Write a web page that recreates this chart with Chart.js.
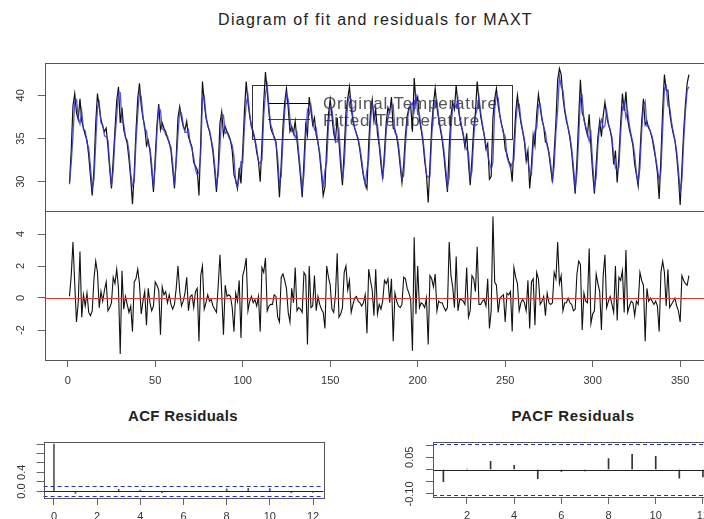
<!DOCTYPE html>
<html>
<head>
<meta charset="utf-8">
<script src="https://cdn.jsdelivr.net/npm/chart.js@4.4.1/dist/chart.umd.min.js"></script>
<style>
  html, body { margin: 0; padding: 0; background: #fff; overflow: hidden; }
  #page { position: relative; width: 704px; height: 519px; overflow: hidden; font-family: "Liberation Sans", Arial, sans-serif; }
  canvas { position: absolute; }
  .title { position: absolute; text-align: center; color: #222; line-height: 18px; }
</style>
</head>
<body>
<div id="page">
  <div class="title" style="left:0;top:11px;width:751px;font-size:16px;letter-spacing:1.3px;">Diagram of fit and residuals for MAXT</div>
  <canvas id="fitChart" width="716" height="212" style="left:0;top:0"></canvas>
  <canvas id="residChart" width="716" height="190" style="left:0;top:205px"></canvas>
  <div class="title" style="left:83px;top:407px;width:200px;font-size:15px;font-weight:bold;letter-spacing:0.3px;">ACF Residuals</div>
  <div class="title" style="left:473px;top:407px;width:200px;font-size:15px;font-weight:bold;letter-spacing:0.6px;">PACF Residuals</div>
  <canvas id="acfChart" width="360" height="119" style="left:0;top:400px"></canvas>
  <canvas id="pacfChart" width="356" height="119" style="left:360px;top:400px"></canvas>
</div>
<script>
// daily maximum temperature, one value per day
const origTemp = [
  29.8, 33.6, 38.8, 40.2, 38.0, 37.2, 39.6, 37.0, 36.2, 35.4, 34.8, 33.0, 30.6, 28.4,
  31.5, 36.8, 40.2, 38.6, 37.2, 36.4, 35.8, 36.2, 34.0, 31.4, 29.2,
  32.6, 36.0, 39.4, 41.0, 36.8, 38.6, 36.0, 35.2, 34.4, 32.6, 30.4, 27.4,
  31.0, 35.8, 39.6, 41.4, 38.8, 37.4, 36.4, 34.2, 34.8, 33.6, 31.2, 28.8,
  32.8, 36.6, 39.0, 36.0, 36.8, 36.2, 35.8, 35.0, 34.6, 33.6, 31.4, 29.2,
  32.8, 37.4, 38.7, 37.4, 36.4, 36.0, 37.0, 35.2, 34.6, 34.0, 32.2, 31.8, 31.4, 28.4,
  34.6, 41.6, 39.2, 37.4, 36.6, 35.8, 34.8, 33.4, 31.2, 28.8,
  31.6, 36.8, 38.1, 35.4, 36.4, 35.8, 35.4, 34.8, 33.6, 30.8, 30.2, 29.2,
  31.6, 29.8, 33.6, 38.2, 41.6, 39.2, 37.6, 36.4, 35.6, 34.8, 33.4, 32.4, 30.0,
  34.4, 39.2, 42.7, 40.4, 38.0, 36.2, 35.6, 35.2, 34.6, 31.6, 28.2,
  32.0, 36.4, 39.2, 40.8, 38.6, 35.8, 36.4, 35.6, 37.0, 34.8, 32.8, 30.6, 28.2,
  32.4, 36.6, 35.4, 39.8, 38.2, 36.6, 37.4, 35.4, 34.6, 33.0, 30.8, 28.4,
  29.4, 34.2, 37.8, 39.5, 37.6, 35.6, 34.8, 37.4, 34.6, 31.8, 29.6,
  33.6, 38.0, 39.6, 41.0, 38.6, 37.0, 36.2, 35.6, 34.8, 33.6, 32.0, 30.6, 29.8, 29.2,
  34.4, 38.0, 39.5, 37.0, 38.4, 35.6, 34.2, 32.0, 30.3,
  33.4, 36.8, 38.6, 38.0, 39.8, 36.2, 36.0, 35.2, 33.8, 31.8, 29.9, 32.0,
  35.4, 37.6, 38.6, 38.8, 35.8, 42.0, 39.2, 39.8, 37.2, 36.0, 34.6, 32.4, 30.8, 27.6,
  32.0, 36.4, 39.0, 40.8, 38.6, 37.2, 36.0, 34.8, 33.0, 30.8, 28.8,
  34.0, 37.6, 39.2, 38.4, 41.2, 38.8, 37.4, 36.4, 35.4, 34.0, 35.6, 32.2, 29.6,
  32.6, 36.2, 38.0, 41.6, 39.4, 37.6, 36.4, 35.4, 33.8, 34.4, 30.3, 30.6,
  37.4, 39.6, 40.8, 38.8, 37.6, 36.6, 35.8, 33.8, 33.2, 32.4, 32.0, 30.0,
  34.4, 38.0, 40.0, 38.2, 36.8, 35.8, 34.6, 32.4, 33.6, 29.2,
  31.8, 35.4, 34.2, 37.8, 40.1, 38.6, 37.2, 36.4, 34.6, 34.4, 33.2, 31.6, 29.9,
  33.4, 37.0, 41.8, 43.1, 42.4, 39.8, 38.2, 37.0, 36.2, 35.0, 33.4, 31.0, 28.6,
  32.4, 37.4, 41.8, 38.0, 37.4, 36.2, 35.4, 37.8, 34.0, 31.0, 28.6,
  32.0, 35.2, 37.0, 35.2, 37.6, 39.2, 37.6, 36.6, 36.0, 34.8, 32.0, 33.6, 29.9,
  33.0, 36.8, 40.2, 38.2, 40.4, 37.2, 36.0, 35.2, 34.2, 32.0, 30.8, 29.5,
  33.2, 37.0, 39.6, 36.6, 37.0, 36.2, 35.8, 35.0, 33.8, 32.6, 31.0, 28.0,
  32.8, 38.4, 42.4, 40.6, 40.6, 38.0, 36.6, 35.6, 34.8, 33.0, 30.6, 27.3,
  31.6, 35.8, 39.0, 41.4, 42.4
];

// fitted values (blue line)
const fittedTemp = [
  29.7, 32.2, 35.3, 39.3, 39.5, 37.5, 36.7, 38.2, 36.0, 35.9, 34.5, 33.9, 31.7, 29.2,
  30.3, 34.5, 38.6, 39.2, 36.8, 36.6, 35.3, 35.2, 34.8, 32.0, 29.5,
  31.3, 35.1, 37.6, 40.4, 40.3, 36.9, 36.7, 35.1, 34.8, 33.5, 30.9, 29.5,
  30.0, 34.6, 37.8, 40.5, 39.8, 37.6, 36.0, 35.9, 34.2, 33.9, 32.0, 29.3,
  31.8, 35.8, 38.5, 38.3, 36.1, 36.0, 35.4, 35.3, 34.4, 34.0, 32.1, 29.6,
  32.2, 35.4, 38.3, 37.9, 36.6, 35.7, 35.7, 36.0, 34.5, 33.8, 32.8, 31.4, 30.8, 31.1,
  33.2, 39.6, 39.9, 37.7, 36.4, 36.0, 34.9, 33.9, 31.9, 29.7,
  30.8, 34.1, 37.8, 37.7, 35.6, 35.7, 35.2, 34.7, 34.2, 32.9, 29.9, 29.4,
  30.5, 32.3, 32.2, 36.4, 39.1, 40.0, 37.8, 36.3, 35.9, 34.9, 33.9, 32.3, 32.1,
  32.5, 37.6, 40.2, 41.2, 38.5, 36.6, 36.0, 35.0, 34.5, 32.8, 29.7,
  30.7, 34.9, 38.1, 40.2, 39.5, 37.3, 35.8, 35.9, 35.1, 35.6, 33.4, 31.3, 29.1,
  30.8, 35.2, 38.3, 37.8, 38.8, 37.1, 36.0, 36.2, 34.5, 33.4, 31.5, 29.3,
  31.3, 32.2, 36.5, 38.7, 38.3, 36.5, 34.6, 34.6, 35.8, 32.8, 30.2,
  32.0, 36.0, 39.1, 39.9, 39.5, 37.4, 36.2, 35.5, 35.0, 33.9, 32.5, 30.9, 29.6, 31.4,
  32.6, 36.9, 39.0, 38.1, 36.6, 36.6, 34.6, 32.7, 30.5,
  32.3, 35.9, 37.4, 38.3, 38.6, 38.9, 35.7, 35.4, 34.3, 32.4, 30.3, 30.7,
  34.2, 37.0, 38.3, 38.9, 39.1, 38.2, 40.2, 37.8, 37.8, 36.3, 35.0, 33.0, 30.8, 30.5,
  30.6, 35.2, 38.3, 39.3, 39.4, 37.4, 36.3, 35.1, 33.6, 31.6, 29.4,
  30.5, 36.2, 38.5, 39.0, 38.6, 39.6, 37.5, 36.5, 35.6, 34.4, 33.7, 33.4, 30.4,
  31.2, 35.0, 37.6, 38.4, 39.8, 38.0, 36.6, 35.5, 34.3, 33.2, 32.2, 31.4,
  32.3, 38.6, 40.0, 39.7, 37.6, 36.5, 35.6, 35.3, 32.9, 32.2, 31.6, 32.1,
  32.5, 36.7, 39.1, 39.0, 37.1, 35.9, 34.9, 33.2, 32.5, 31.1,
  30.8, 34.2, 35.9, 36.2, 38.9, 39.0, 37.4, 36.3, 35.7, 34.1, 33.5, 32.0, 30.2,
  31.8, 35.8, 38.3, 42.2, 41.0, 40.6, 38.5, 37.3, 36.2, 35.3, 33.8, 31.8, 29.3,
  30.9, 35.1, 39.7, 40.0, 37.1, 36.4, 35.7, 34.7, 35.6, 32.0, 29.4,
  30.5, 34.3, 36.6, 37.2, 36.2, 36.5, 38.2, 36.8, 35.9, 35.2, 32.9, 31.6, 31.3,
  31.7, 35.7, 38.5, 39.1, 37.4, 38.1, 36.5, 35.4, 34.5, 33.1, 31.0, 29.9,
  31.6, 35.9, 38.8, 39.3, 36.4, 36.4, 35.8, 35.2, 34.2, 32.8, 31.5, 30.1,
  31.2, 36.1, 40.8, 41.1, 38.8, 38.6, 37.0, 35.8, 34.8, 33.5, 31.4, 28.8,
  30.2, 34.7, 38.1, 40.6, 41.0
];

// residuals (middle panel)
const residuals = [
  0.1, 1.4, 3.5, 0.9, -1.5, -0.3, 2.9, -1.2, 0.2, -0.5, 0.3, -0.9, -1.1, -0.8,
  1.2, 2.3, 1.6, -0.6, 0.4, -0.2, 0.5, 1.0, -0.8, -0.6, -0.3,
  1.3, 0.9, 1.8, 0.6, -3.5, 1.7, -0.7, 0.1, -0.4, -0.9, -0.5, -2.1,
  1.0, 1.2, 1.8, 0.9, -1.0, -0.2, 0.4, -1.7, 0.6, -0.3, -0.8, -0.5,
  1.0, 0.8, 0.5, -2.3, 0.7, 0.2, 0.4, -0.3, 0.2, -0.4, -0.7, -0.4,
  0.6, 2.0, 0.4, -0.5, -0.2, 0.3, 1.3, -0.8, 0.1, 0.2, -0.6, 0.4, 0.6, -2.7,
  1.4, 2.0, -0.7, -0.3, 0.2, -0.2, -0.1, -0.5, -0.7, -0.9,
  0.8, 2.7, 0.3, -2.3, 0.8, 0.1, 0.2, 0.1, -0.6, -2.1, 0.3, -0.2,
  1.1, -2.5, 1.4, 1.8, 2.5, -0.8, -0.2, 0.1, -0.3, -0.1, -0.5, 0.1, -2.1,
  1.9, 1.6, 2.5, -0.8, -0.5, -0.4, -0.4, 0.2, 0.1, -1.2, -1.5,
  1.3, 1.5, 1.1, 0.6, -0.9, -1.5, 0.6, -0.3, 1.9, -0.8, -0.6, -0.7, -0.9,
  1.6, 1.4, -2.9, 2.0, -0.6, -0.5, 1.4, -0.8, 0.1, -0.4, -0.7, -0.9,
  -1.9, 2.0, 1.3, 0.8, -0.7, -0.9, 0.2, 2.8, -1.2, -1.0, -0.6,
  1.6, 2.0, 0.5, 1.1, -0.9, -0.4, 0.0, 0.1, -0.2, -0.3, -0.5, -0.3, 0.2, -2.2,
  1.8, 1.1, 0.5, -1.1, 1.8, -1.0, -0.4, -0.7, -0.2,
  1.1, 0.9, 1.2, -0.3, 1.2, -2.7, 0.3, -0.2, -0.5, -0.6, -0.4, 1.3,
  1.2, 0.6, 0.3, -0.1, -3.3, 3.8, -1.0, 2.0, -0.6, -0.3, -0.4, -0.6, 0.0, -2.9,
  1.4, 1.2, 0.7, 1.5, -0.8, -0.2, -0.3, -0.3, -0.6, -0.8, -0.6,
  3.5, 1.4, 0.7, -0.6, 2.6, -0.8, -0.1, -0.1, -0.2, -0.4, 1.9, -1.2, -0.8,
  1.4, 1.2, 0.4, 3.2, -0.4, -0.4, -0.2, -0.1, -0.5, 1.2, -1.9, -0.8,
  5.1, 1.0, 0.8, -0.9, 0.0, 0.1, 0.2, -1.5, 0.3, 0.2, 0.4, -2.1,
  1.9, 1.3, 0.9, -0.8, -0.3, -0.1, -0.3, -0.8, 1.1, -1.9,
  1.0, 1.2, -1.7, 1.6, 1.2, -0.4, -0.2, 0.1, -1.1, 0.3, -0.3, -0.4, -0.3,
  1.6, 1.2, 3.5, 0.9, 1.4, -0.8, -0.3, -0.3, 0.0, -0.3, -0.4, -0.8, -0.7,
  1.5, 2.3, 2.1, -2.0, 0.3, -0.2, -0.3, 3.1, -1.6, -1.0, -0.8,
  1.5, 0.9, 0.4, -2.0, 1.4, 2.7, -0.6, -0.2, 0.1, -0.4, -0.9, 2.0, -1.4,
  1.3, 1.1, 1.7, -0.9, 3.0, -0.9, -0.5, -0.2, -0.3, -1.1, -0.2, -0.4,
  1.6, 1.1, 0.8, -2.7, 0.6, -0.2, 0.0, -0.2, -0.4, -0.2, -0.5, -2.1,
  1.6, 2.3, 1.6, -0.5, 1.8, -0.6, -0.4, -0.2, 0.0, -0.5, -0.8, -1.5,
  1.4, 1.1, 0.9, 0.8, 1.4
];

const dayTicks = [0, 50, 100, 150, 200, 250, 300, 350];
const tempTicks = [30, 35, 40];
const residTicks = [-2, 0, 2, 4];

const acfLags = [0, 1, 2, 3, 4, 5, 6, 7, 8, 9, 10, 11, 12];
const acfValues = [1, -0.05, 0.0, 0.035, 0.02, -0.035, -0.01, -0.008, 0.045, 0.06, 0.055, -0.035, -0.03];
const pacfLags = [1, 2, 3, 4, 5, 6, 7, 8, 9, 10, 11, 12];
const pacfValues = [-0.05, 0.002, 0.033, 0.017, -0.037, -0.008, -0.006, 0.045, 0.062, 0.054, -0.035, -0.03];
const ciLimit = 0.104;

const acfLagTicks = [0, 2, 4, 6, 8, 10, 12];
const pacfLagTicks = [2, 4, 6, 8, 10, 12];
const acfTicksY = [0, 0.2, 0.4, 0.6, 0.8, 1.0];
const acfLabelsY = [[0, '0.0'], [0.4, '0.4']];
const pacfTicksY = [-0.10, -0.05, 0, 0.05, 0.10];
const pacfLabelsY = [[-0.10, '-0.10'], [0.05, '0.05']];

const FONT = '"Liberation Sans", Arial, sans-serif';
const TICK_GREY = '#666';
Chart.defaults.font.family = FONT;
Chart.defaults.animation = false;

const days = origTemp.map((_, i) => i + 1);
const toPoints = (xs, ys) => xs.map((x, i) => ({ x: x, y: ys[i] }));

// ---- shared helpers ----
function fixedTicks(values) {
  return scale => { scale.ticks = values.map(v => ({ value: v })); };
}

function xAxis(min, max, ticks, height, pad, show) {
  return {
    type: 'linear', min: min, max: max, offset: false,
    display: show,
    afterBuildTicks: fixedTicks(ticks),
    afterFit: s => { s.height = height; },
    grid: { drawOnChartArea: false, drawTicks: true, tickLength: 7, color: TICK_GREY, offset: false },
    border: { display: false },
    ticks: { color: '#333', font: { size: 11 }, padding: pad, maxRotation: 0, autoSkip: false }
  };
}

function yAxis(min, max, ticks, width) {
  return {
    type: 'linear', min: min, max: max,
    afterBuildTicks: fixedTicks(ticks),
    afterFit: s => { s.width = width; },
    grid: { drawOnChartArea: false, drawTicks: true, tickLength: 7, color: TICK_GREY },
    border: { display: false },
    ticks: { display: false }
  };
}

const frameBox = {
  id: 'frameBox',
  afterDraw(chart) {
    const { ctx, chartArea: a } = chart;
    ctx.save();
    ctx.strokeStyle = '#555';
    ctx.lineWidth = 1;
    ctx.strokeRect(Math.round(a.left) + 0.5, Math.round(a.top) + 0.5, Math.round(a.width), Math.round(a.height));
    ctx.restore();
  }
};

// y tick labels written parallel to the axis, like R does
function sideLabels(items, offset) {
  return {
    id: 'sideLabels',
    afterDraw(chart) {
      const { ctx, chartArea: a, scales: { y } } = chart;
      ctx.save();
      ctx.fillStyle = '#333';
      ctx.font = '11px ' + FONT;
      ctx.textAlign = 'center';
      ctx.textBaseline = 'middle';
      items.forEach(([v, txt]) => {
        ctx.save();
        ctx.translate(a.left - offset, y.getPixelForValue(v));
        ctx.rotate(-Math.PI / 2);
        ctx.fillText(txt, 0, 0);
        ctx.restore();
      });
      ctx.restore();
    }
  };
}

// horizontal reference lines across the plot region
function refLines(lines) {
  return {
    id: 'refLines',
    afterDatasetsDraw(chart) {
      const { ctx, chartArea: a, scales: { y } } = chart;
      ctx.save();
      lines.forEach(l => {
        const py = Math.round(y.getPixelForValue(l.value)) + 0.5;
        ctx.strokeStyle = l.color;
        ctx.lineWidth = l.width || 1;
        ctx.setLineDash(l.dash || []);
        ctx.beginPath();
        ctx.moveTo(a.left, py);
        ctx.lineTo(a.right, py);
        ctx.stroke();
      });
      ctx.restore();
    }
  };
}

// legend box drawn under the lines
const fitLegend = {
  id: 'fitLegend',
  beforeDatasetsDraw(chart) {
    const ctx = chart.ctx;
    ctx.save();
    ctx.strokeStyle = '#333';
    ctx.lineWidth = 1;
    ctx.strokeRect(252.5, 85.5, 260, 54);
    ctx.beginPath();
    ctx.strokeStyle = '#000';
    ctx.moveTo(268, 103.5); ctx.lineTo(310, 103.5);
    ctx.stroke();
    ctx.beginPath();
    ctx.strokeStyle = '#3030d0';
    ctx.moveTo(268, 119.5); ctx.lineTo(310, 119.5);
    ctx.stroke();
    ctx.fillStyle = '#555';
    ctx.font = '17px ' + FONT;
    ctx.letterSpacing = '0.8px';
    ctx.textBaseline = 'middle';
    ctx.fillText('Original Temperature', 323, 104);
    ctx.fillText('Fitted Temperature', 323, 121);
    ctx.restore();
  }
};

// ---- top panel: data and fit ----
new Chart(document.getElementById('fitChart'), {
  type: 'line',
  data: {
    datasets: [
      { label: 'Fitted Temperature', data: toPoints(days, fittedTemp), borderColor: 'rgba(55,55,210,0.85)', borderWidth: 1.3, pointRadius: 0, order: 1 },
      { label: 'Original Temperature', data: toPoints(days, origTemp), borderColor: '#111', borderWidth: 1.2, pointRadius: 0, order: 2 }
    ]
  },
  options: {
    responsive: false,
    layout: { padding: { top: 63, right: 2.3, bottom: 1, left: 0 } },
    plugins: { legend: { display: false }, tooltip: { enabled: false } },
    scales: {
      x: xAxis(-13.16, 369.16, dayTicks, 0, 0, false),
      y: yAxis(26.6, 43.75, tempTicks, 44.7)
    }
  },
  plugins: [fitLegend, frameBox, sideLabels(tempTicks.map(v => [v, String(v)]), 24)]
});

// ---- middle panel: residuals ----
new Chart(document.getElementById('residChart'), {
  type: 'line',
  data: {
    datasets: [
      { label: 'Residuals', data: toPoints(days, residuals), borderColor: '#111', borderWidth: 1.1, pointRadius: 0 }
    ]
  },
  options: {
    responsive: false,
    layout: { padding: { top: 6, right: 2.3, bottom: 0, left: 0 } },
    plugins: { legend: { display: false }, tooltip: { enabled: false } },
    scales: {
      x: xAxis(-13.16, 369.16, dayTicks, 35, 7, true),
      y: yAxis(-3.875, 5.4375, residTicks, 44.7)
    }
  },
  plugins: [refLines([{ value: 0, color: '#e53935' }]), frameBox, sideLabels(residTicks.map(v => [v, String(v)]), 24)]
});

// ---- ACF ----
new Chart(document.getElementById('acfChart'), {
  type: 'bar',
  data: {
    datasets: [
      { label: 'ACF', data: toPoints(acfLags, acfValues), backgroundColor: '#555', barThickness: 1 }
    ]
  },
  options: {
    responsive: false,
    layout: { padding: { top: 42, right: 36.6, bottom: 0, left: 0 } },
    plugins: { legend: { display: false }, tooltip: { enabled: false } },
    scales: {
      x: xAxis(-0.48, 12.48, acfLagTicks, 21, 5, true),
      y: yAxis(-0.148, 1.044, acfTicksY, 43.6)
    }
  },
  plugins: [refLines([
    { value: 0, color: '#222' },
    { value: ciLimit, color: '#2b2bd9', dash: [4, 3] },
    { value: -ciLimit, color: '#2b2bd9', dash: [4, 3] }
  ]), frameBox, sideLabels(acfLabelsY, 22)]
});

// ---- PACF ----
new Chart(document.getElementById('pacfChart'), {
  type: 'bar',
  data: {
    datasets: [
      { label: 'PACF', data: toPoints(pacfLags, pacfValues), backgroundColor: '#333', barThickness: 1 }
    ]
  },
  options: {
    responsive: false,
    layout: { padding: { top: 42, right: 2.7, bottom: 0, left: 0 } },
    plugins: { legend: { display: false }, tooltip: { enabled: false } },
    scales: {
      x: xAxis(0.56, 12.44, pacfLagTicks, 22, 5, true),
      y: yAxis(-0.1124, 0.1124, pacfTicksY, 73)
    }
  },
  plugins: [refLines([
    { value: 0, color: '#222' },
    { value: ciLimit, color: '#2b2bd9', dash: [4, 3] },
    { value: -ciLimit, color: '#2b2bd9', dash: [4, 3] }
  ]), frameBox, sideLabels(pacfLabelsY, 23)]
});
</script>
</body>
</html>
